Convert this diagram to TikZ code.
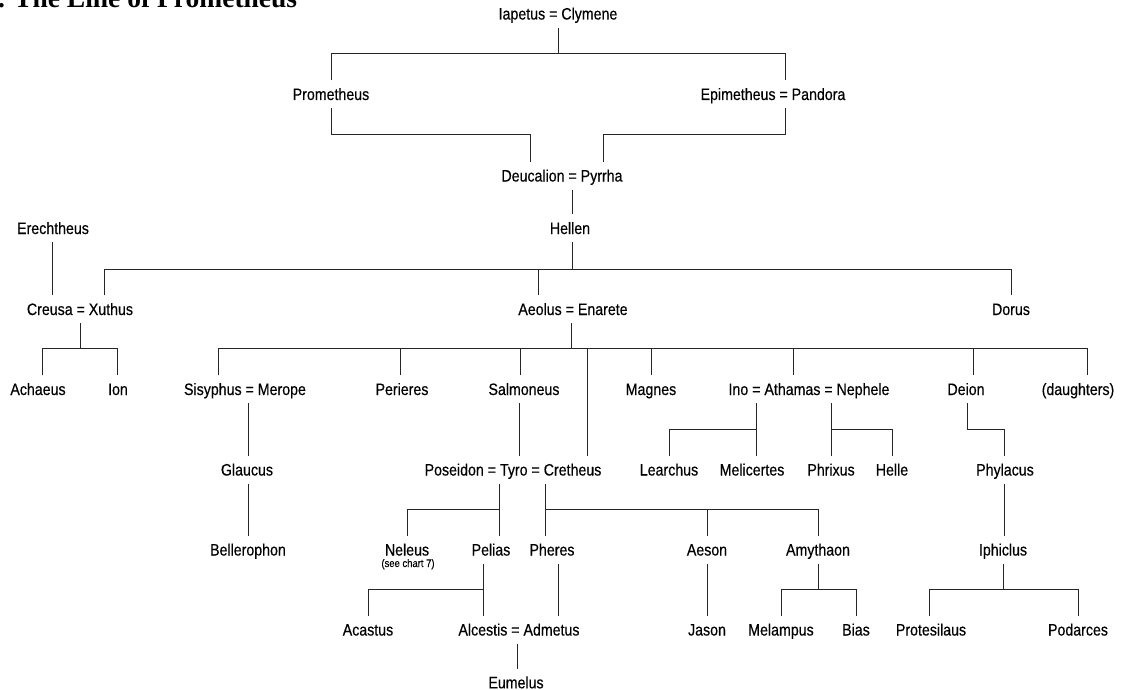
\documentclass[tikz,border=0pt]{standalone}
\usepackage{fontspec}
\setmainfont{Liberation Sans}[FakeStretch=0.86,FakeBold=0.35]
\newfontfamily\titlefont{Liberation Serif}
\begin{document}
\begin{tikzpicture}[x=1pt,y=-1pt,
  person/.style={anchor=base, inner xsep=1pt, inner ysep=8pt, text height=11.5pt, text depth=0pt, font=\fontsize{16.5}{18}\selectfont},
  note/.style={anchor=base, inner sep=0pt, font=\fontsize{11}{12}\selectfont},
  link/.style={draw=black!85, line width=0.75pt}]
\useasboundingbox (0,0) rectangle (1132,690);
\clip (0,0) rectangle (1132,690);
\fill[white] (0,0) rectangle (1132,690);

% title (cut off at the top, as in the reference)
\node[anchor=base west, inner sep=0pt, font=\titlefont\bfseries\fontsize{27.5}{30}\selectfont] (title) at (-2,8) {. The Line of Prometheus};

% row 0
\node[person] (iap) at (558,19.5) {Iapetus = Clymene};
% row 1
\node[person] (prom) at (331,100) {Prometheus};
\node[person] (epi) at (773,100) {Epimetheus = Pandora};
% row 2
\node[person] (deu) at (562,181.5) {Deucalion = Pyrrha};
% row 3
\node[person] (ere) at (53,234) {Erechtheus};
\node[person] (hel) at (570,234) {Hellen};
% row 4
\node[person] (cx) at (80,315) {Creusa = Xuthus};
\node[person] (aeo) at (573,315) {Aeolus = Enarete};
\node[person] (dor) at (1011,315) {Dorus};
% row 5
\node[person] (ach) at (38,395) {Achaeus};
\node[person] (ion) at (118,395) {Ion};
\node[person] (sis) at (245,395) {Sisyphus = Merope};
\node[person] (per) at (402,395) {Perieres};
\node[person] (sal) at (524,395) {Salmoneus};
\node[person] (mag) at (651,395) {Magnes};
\node[person] (ino) at (809,395) {Ino = Athamas = Nephele};
\node[person] (dei) at (966,395) {Deion};
\node[person] (dau) at (1078,395) {(daughters)};
% row 6
\node[person] (gla) at (247,475.5) {Glaucus};
\node[person] (pos) at (513,475.5) {Poseidon = Tyro = Cretheus};
\node[person] (lea) at (669,475.5) {Learchus};
\node[person] (mlc) at (752,475.5) {Melicertes};
\node[person] (phr) at (831,475.5) {Phrixus};
\node[person] (hle) at (892,475.5) {Helle};
\node[person] (phy) at (1005,475.5) {Phylacus};
% row 7
\node[person] (bel) at (248,555.5) {Bellerophon};
\node[person] (nel) at (407,555.5) {Neleus};
\node[note] (see) at (408,567) {(see chart 7)};
\node[person] (pel) at (491,555.5) {Pelias};
\node[person] (phe) at (552,555.5) {Pheres};
\node[person] (aes) at (707,555.5) {Aeson};
\node[person] (amy) at (818,555.5) {Amythaon};
\node[person] (iph) at (1003,555.5) {Iphiclus};
% row 8
\node[person] (aca) at (368,635.5) {Acastus};
\node[person] (alc) at (519,635.5) {Alcestis = Admetus};
\node[person] (jas) at (707,635.5) {Jason};
\node[person] (mlp) at (781,635.5) {Melampus};
\node[person] (bia) at (856,635.5) {Bias};
\node[person] (pro) at (931,635.5) {Protesilaus};
\node[person] (pod) at (1078,635.5) {Podarces};
% row 9
\node[person] (eum) at (516,688.3) {Eumelus};

% junction coordinates
\coordinate (jA) at (558,53);  \coordinate (jA1) at (331,53);  \coordinate (jA2) at (785,53);
\coordinate (jB1) at (331,134); \coordinate (jB2) at (530,134); \coordinate (jB3) at (603,134); \coordinate (jB4) at (785,134);
\coordinate (jC) at (572,200);
\coordinate (jD) at (572,269); \coordinate (jD1) at (104,269); \coordinate (jD2) at (538,269); \coordinate (jD4) at (1011,269);
\coordinate (jE) at (52,260);
\coordinate (jF) at (80,348); \coordinate (jF1) at (42,348); \coordinate (jF2) at (117,348);
\coordinate (jG) at (571,348); \coordinate (jG1) at (218,348); \coordinate (jG2) at (400,348);
\coordinate (jG3) at (520,348); \coordinate (jG4) at (587,348); \coordinate (jG5) at (651,348);
\coordinate (jG6) at (793,348); \coordinate (jG7) at (973,348); \coordinate (jG9) at (1087,348);
\coordinate (jH) at (248,500);
\coordinate (jI) at (519,430);
\coordinate (jJ1) at (407,509); \coordinate (jJ2) at (499,509);
\coordinate (jK1) at (545,509); \coordinate (jK2) at (707,509); \coordinate (jK3) at (818,509);
\coordinate (jL1) at (368,589); \coordinate (jL2) at (483,589);
\coordinate (jM) at (558,590);
\coordinate (jN) at (517,660);
\coordinate (jO) at (707,590);
\coordinate (jP) at (818,589); \coordinate (jP1) at (781,589); \coordinate (jP2) at (856,589);
\coordinate (jQ1) at (669,429); \coordinate (jQ2) at (756,429);
\coordinate (jR1) at (831,429); \coordinate (jR2) at (892,429);
\coordinate (jS1) at (967,429); \coordinate (jS2) at (1004,429);
\coordinate (jT) at (1004,510);
\coordinate (jU) at (1003,589); \coordinate (jU1) at (929,589); \coordinate (jU2) at (1078,589);

% Iapetus -> Prometheus, Epimetheus
\draw[link] (iap.south -| jA) -- (jA);
\draw[link] (prom.north -| jA1) |- (jA2) -- (epi.north -| jA2);
% Prometheus, Epimetheus -> Deucalion = Pyrrha
\draw[link] (prom.south -| jB1) |- (jB2) -- (deu.north -| jB2);
\draw[link] (epi.south -| jB4) |- (jB3) -- (deu.north -| jB3);
% Deucalion -> Hellen
\draw[link] (deu.south -| jC) -- (hel.north -| jC);
% Hellen -> Xuthus, Aeolus, Dorus
\draw[link] (hel.south -| jD) -- (jD);
\draw[link] (cx.north -| jD1) |- (jD4) -- (dor.north -| jD4);
\draw[link] (jD2) -- (aeo.north -| jD2);
% Erechtheus -> Creusa
\draw[link] (ere.south -| jE) -- (cx.north -| jE);
% Creusa = Xuthus -> Achaeus, Ion
\draw[link] (cx.south -| jF) -- (jF);
\draw[link] (ach.north -| jF1) |- (jF2) -- (ion.north -| jF2);
% Aeolus = Enarete -> children
\draw[link] (aeo.south -| jG) -- (jG);
\draw[link] (sis.north -| jG1) |- (jG9) -- (dau.north -| jG9);
\draw[link] (jG2) -- (per.north -| jG2);
\draw[link] (jG3) -- (sal.north -| jG3);
\draw[link] (jG4) -- (pos.north -| jG4);
\draw[link] (jG5) -- (mag.north -| jG5);
\draw[link] (jG6) -- (ino.north -| jG6);
\draw[link] (jG7) -- (dei.north -| jG7);
% Sisyphus -> Glaucus -> Bellerophon
\draw[link] (sis.south -| jH) -- (gla.north -| jH);
\draw[link] (gla.south -| jH) -- (bel.north -| jH);
% Salmoneus -> Tyro
\draw[link] (sal.south -| jI) -- (pos.north -| jI);
% Poseidon = Tyro -> Neleus, Pelias
\draw[link] (pos.south -| jJ2) -- (pel.north -| jJ2);
\draw[link] (nel.north -| jJ1) |- (jJ2);
% Tyro = Cretheus -> Pheres, Aeson, Amythaon
\draw[link] (pos.south -| jK1) -- (phe.north -| jK1);
\draw[link] (jK1) -- (jK3) -- (amy.north -| jK3);
\draw[link] (jK2) -- (aes.north -| jK2);
% Pelias -> Acastus, Alcestis
\draw[link] (pel.south -| jL2) -- (alc.north -| jL2);
\draw[link] (aca.north -| jL1) |- (jL2);
% Pheres -> Admetus
\draw[link] (phe.south -| jM) -- (alc.north -| jM);
% Alcestis = Admetus -> Eumelus
\draw[link] (alc.south -| jN) -- (eum.north -| jN);
% Aeson -> Jason
\draw[link] (aes.south -| jO) -- (jas.north -| jO);
% Amythaon -> Melampus, Bias
\draw[link] (amy.south -| jP) -- (jP);
\draw[link] (mlp.north -| jP1) |- (jP2) -- (bia.north -| jP2);
% Ino = Athamas -> Learchus, Melicertes
\draw[link] (ino.south -| jQ2) -- (mlc.north -| jQ2);
\draw[link] (lea.north -| jQ1) |- (jQ2);
% Athamas = Nephele -> Phrixus, Helle
\draw[link] (ino.south -| jR1) -- (phr.north -| jR1);
\draw[link] (jR1) -- (jR2) -- (hle.north -| jR2);
% Deion -> Phylacus -> Iphiclus
\draw[link] (dei.south -| jS1) |- (jS2) -- (phy.north -| jS2);
\draw[link] (phy.south -| jT) -- (iph.north -| jT);
% Iphiclus -> Protesilaus, Podarces
\draw[link] (iph.south -| jU) -- (jU);
\draw[link] (pro.north -| jU1) |- (jU2) -- (pod.north -| jU2);
\end{tikzpicture}
\end{document}
